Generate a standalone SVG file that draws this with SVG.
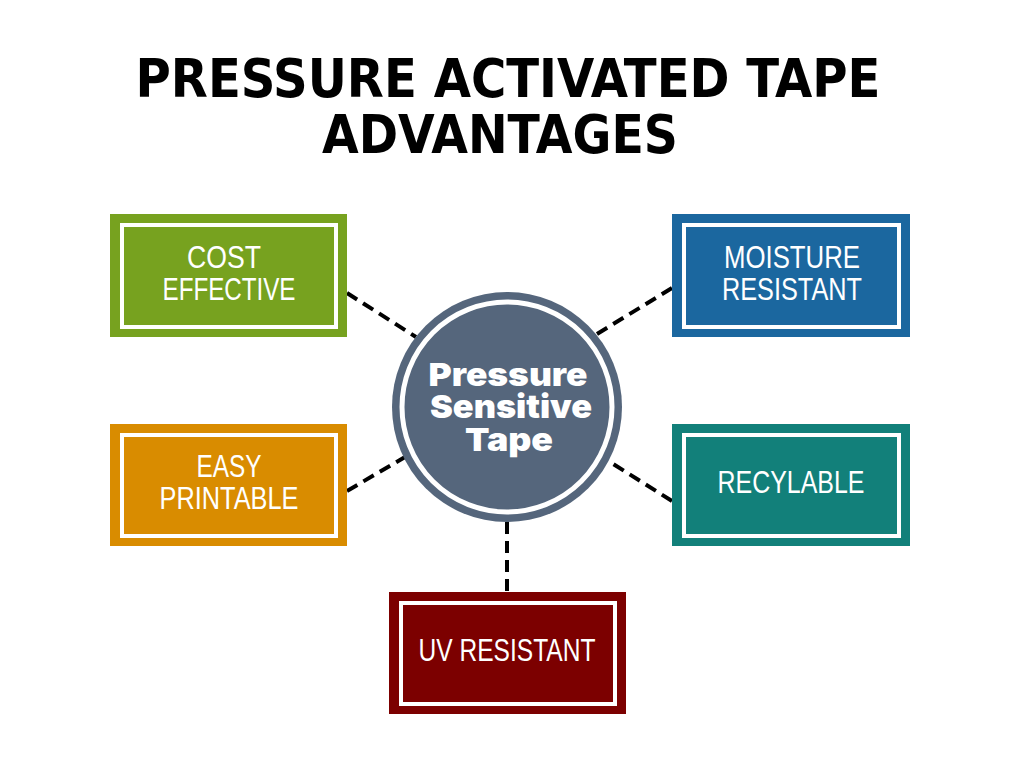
<svg xmlns="http://www.w3.org/2000/svg" width="1024" height="768" viewBox="0 0 1024 768">
<style>
.title{font-family:"DejaVu Sans Condensed","DejaVu Sans","Liberation Sans",sans-serif;font-stretch:condensed;font-weight:bold;font-size:54px;fill:#000;text-anchor:middle}
.lbl{font-family:"Liberation Sans",Arial,sans-serif;font-size:32px;fill:#fff;text-anchor:middle}
.ctr{font-family:Inter,"Noto Sans",sans-serif;font-weight:900;font-size:32px;fill:#fff;text-anchor:middle}
.inner{fill:none;stroke:#fff;stroke-width:4}
.conn{stroke:#000;stroke-width:4;stroke-dasharray:12 7;fill:none}
</style>
<rect width="1024" height="768" fill="#fff"/>
<text class="title" x="508" y="97" textLength="745" lengthAdjust="spacingAndGlyphs">PRESSURE ACTIVATED TAPE</text>
<text class="title" x="500" y="153" textLength="356" lengthAdjust="spacingAndGlyphs">ADVANTAGES</text>
<g id="connectors">
<line class="conn" x1="347" y1="293" x2="416" y2="337"/>
<line class="conn" x1="672" y1="288" x2="597" y2="334"/>
<line class="conn" x1="347" y1="491" x2="405" y2="457"/>
<line class="conn" x1="672" y1="501" x2="610" y2="462"/>
<line class="conn" x1="507" y1="522" x2="507" y2="592"/>
</g>
<g id="center">
<circle cx="507" cy="407" r="115" fill="#55667c"/>
<circle cx="507" cy="407" r="105" fill="none" stroke="#fff" stroke-width="5"/>
<text class="ctr" x="508" y="386" textLength="159" lengthAdjust="spacingAndGlyphs">Pressure</text>
<text class="ctr" x="511" y="418" textLength="162" lengthAdjust="spacingAndGlyphs">Sensitive</text>
<text class="ctr" x="509" y="451" textLength="88" lengthAdjust="spacingAndGlyphs">Tape</text>
</g>
<g id="cost">
<rect x="110" y="214" width="237" height="123" fill="#77a21f"/>
<rect class="inner" x="122" y="225" width="214" height="102"/>
<text class="lbl" x="224" y="268" textLength="74" lengthAdjust="spacingAndGlyphs">COST</text>
<text class="lbl" x="229" y="300" textLength="133" lengthAdjust="spacingAndGlyphs">EFFECTIVE</text>
</g>
<g id="moisture">
<rect x="672" y="214" width="238" height="123" fill="#1b679f"/>
<rect class="inner" x="684" y="225" width="215" height="102"/>
<text class="lbl" x="792" y="268" textLength="136" lengthAdjust="spacingAndGlyphs">MOISTURE</text>
<text class="lbl" x="792" y="300" textLength="140" lengthAdjust="spacingAndGlyphs">RESISTANT</text>
</g>
<g id="easy">
<rect x="110" y="424" width="237" height="122" fill="#d98c00"/>
<rect class="inner" x="122" y="435" width="214" height="101"/>
<text class="lbl" x="229" y="477" textLength="65" lengthAdjust="spacingAndGlyphs">EASY</text>
<text class="lbl" x="229" y="509" textLength="139" lengthAdjust="spacingAndGlyphs">PRINTABLE</text>
</g>
<g id="recylable">
<rect x="672" y="424" width="238" height="122" fill="#12807a"/>
<rect class="inner" x="684" y="435" width="215" height="101"/>
<text class="lbl" x="791" y="493" textLength="147" lengthAdjust="spacingAndGlyphs">RECYLABLE</text>
</g>
<g id="uv">
<rect x="389" y="592" width="237" height="122" fill="#7c0000"/>
<rect class="inner" x="401" y="603" width="214" height="101"/>
<text class="lbl" x="507" y="661" textLength="177" lengthAdjust="spacingAndGlyphs">UV RESISTANT</text>
</g>
</svg>
